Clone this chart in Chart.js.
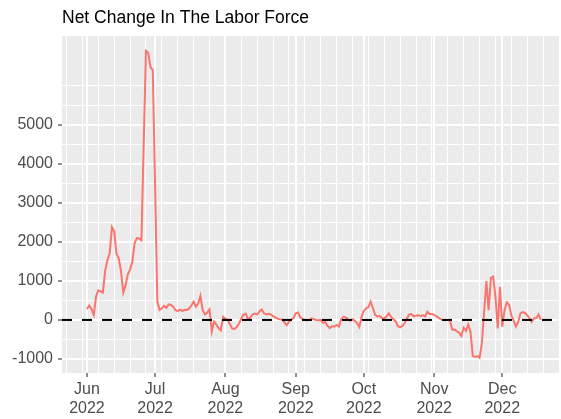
<!DOCTYPE html>
<html>
<head>
<meta charset="utf-8">
<script src="https://cdn.jsdelivr.net/npm/chart.js@4.4.1/dist/chart.umd.min.js"></script>
<style>
  html, body { margin: 0; padding: 0; background: #ffffff; }
</style>
</head>
<body>
<canvas id="laborChart" width="561" height="419"></canvas>
<script>
const chartTitle = "Net Change In The Labor Force";
const monthNames = ["Jun", "Jul", "Aug", "Sep", "Oct", "Nov", "Dec"];
const monthStartDays = [0, 30, 61, 92, 122, 153, 183]; // days since 1 Jun 2022
const yearLabel = "2022";
// weekly minor grid on Mondays (1 Aug is a Monday, already a month line)
const mondayDays = [-9, -2, 5, 12, 19, 26, 33, 40, 47, 54, 68, 75, 82, 89, 96, 103, 110, 117,
    124, 131, 138, 145, 152, 159, 166, 173, 180, 187, 194, 201];
const yMajorTicks = [-1000, 0, 1000, 2000, 3000, 4000, 5000];
const yMinorTicks = [-500, 500, 1500, 2500, 3500, 4500, 5500, 6000];

// daily values, one array per month
const junValues = [280, 370, 280, 130, 600, 760, 730, 700, 1250, 1530,
    1700, 2380, 2270, 1700, 1580, 1250, 700, 880, 1170, 1290,
    1500, 1970, 2100, 2090, 2040, 4500, 6900, 6850, 6480, 6400];
const julValues = [3500, 470, 260, 300, 360, 310, 400, 385, 340, 250,
    230, 265, 230, 260, 256, 290, 370, 470, 340, 420,
    620, 250, 140, 190, 270, -300, -40, -120, -210, -270, 80];
const augValues = [30, 10, -110, -220, -230, -180, -90, 40, 140, 160,
    10, 60, 140, 165, 140, 220, 270, 170, 140, 160,
    140, 100, 65, 35, 17, 10, -60, -130, -50, 10, 50];
const sepValues = [170, 190, 70, 30, 0, -15, 0, 43, 17, 0,
    -10, 0, -80, -50, -150, -210, -160, -170, -130, -170,
    20, 80, 65, 30, -20, 17, -20, -80, -180, 80];
const octValues = [230, 300, 330, 470, 300, 130, 90, 100, 50, 40,
    85, 171, 80, 20, -30, -160, -190, -154, -80, 40,
    140, 150, 90, 110, 120, 105, 120, 90, 210, 155, 154];
const novValues = [130, 95, 55, 15, 0, 0, 0, -30, -250, -245,
    -290, -330, -410, -200, -280, -120, -300, -920, -950, -930,
    -970, -600, 200, 1000, 250, 1080, 1110, 600, -220, 850];
const decValues = [-170, 250, 450, 390, 120, -20, -170, -60, 170, 200,
    180, 120, 40, -50, 40, 50, 140, 0];

const netChange = [...junValues, ...julValues, ...augValues, ...sepValues,
    ...octValues, ...novValues, ...decValues];

const xMin = -11;
const xMax = 208;
const yMin = -1360;
const yMax = 7280;

const tickFont = { family: "'Liberation Sans', Arial, sans-serif", size: 16 };
const isMajorX = (v) => monthStartDays.includes(v);
const isMajorY = (v) => yMajorTicks.includes(v);

const panelPlugin = {
    id: "panel",
    beforeDraw(chart) {
        const { ctx, chartArea } = chart;
        ctx.save();
        ctx.fillStyle = "#EBEBEB";
        ctx.fillRect(chartArea.left, chartArea.top,
            chartArea.right - chartArea.left, chartArea.bottom - chartArea.top);
        ctx.restore();
    },
    afterDraw(chart) {
        const { ctx, chartArea } = chart;
        ctx.save();
        ctx.fillStyle = "#000000";
        ctx.font = "17.5px 'Liberation Sans', Arial, sans-serif";
        ctx.textBaseline = "alphabetic";
        ctx.fillText(chartTitle, chartArea.left, 23);
        ctx.restore();
    }
};

const ctx = document.getElementById("laborChart").getContext("2d");

new Chart(ctx, {
    type: "line",
    data: {
        datasets: [
            {
                label: "Zero",
                data: [{ x: xMin, y: 0 }, { x: xMax, y: 0 }],
                borderColor: "#000000",
                borderWidth: 2,
                borderDash: [10, 10],
                pointRadius: 0,
                order: 0
            },
            {
                label: "Net change",
                data: netChange.map((v, i) => ({ x: i, y: v })),
                borderColor: "#F8766D",
                borderWidth: 2,
                pointRadius: 0,
                tension: 0,
                order: 1
            }
        ]
    },
    options: {
        responsive: false,
        animation: false,
        devicePixelRatio: 1,
        layout: { padding: { top: 36, right: 2, left: 0, bottom: 0 } },
        plugins: {
            legend: { display: false },
            tooltip: { enabled: false }
        },
        scales: {
            x: {
                type: "linear",
                min: xMin,
                max: xMax,
                afterBuildTicks: (scale) => {
                    scale.ticks = [...monthStartDays, ...mondayDays].map((v) => ({ value: v }));
                },
                afterFit: (scale) => { scale.height = 46; },
                border: { display: false },
                grid: {
                    color: "#FFFFFF",
                    lineWidth: (c) => isMajorX(c.tick.value) ? 2 : 1,
                    tickColor: (c) => isMajorX(c.tick.value) ? "#333333" : "rgba(0,0,0,0)",
                    tickLength: 4,
                    tickWidth: 1.1
                },
                ticks: {
                    autoSkip: false,
                    maxRotation: 0,
                    color: "#4D4D4D",
                    font: tickFont,
                    padding: 3,
                    callback: (v) => {
                        const i = monthStartDays.indexOf(v);
                        return i >= 0 ? [monthNames[i], yearLabel] : "";
                    }
                }
            },
            y: {
                min: yMin,
                max: yMax,
                afterBuildTicks: (scale) => {
                    scale.ticks = [...yMajorTicks, ...yMinorTicks].map((v) => ({ value: v }));
                },
                afterFit: (scale) => { scale.width = 62; },
                border: { display: false },
                grid: {
                    color: "#FFFFFF",
                    lineWidth: (c) => isMajorY(c.tick.value) ? 2 : 1,
                    tickColor: (c) => isMajorY(c.tick.value) ? "#333333" : "rgba(0,0,0,0)",
                    tickLength: 4,
                    tickWidth: 1.1
                },
                ticks: {
                    autoSkip: false,
                    color: "#4D4D4D",
                    font: tickFont,
                    padding: 5,
                    callback: (v) => isMajorY(v) ? String(v) : ""
                }
            }
        }
    },
    plugins: [panelPlugin]
});
</script>
</body>
</html>
